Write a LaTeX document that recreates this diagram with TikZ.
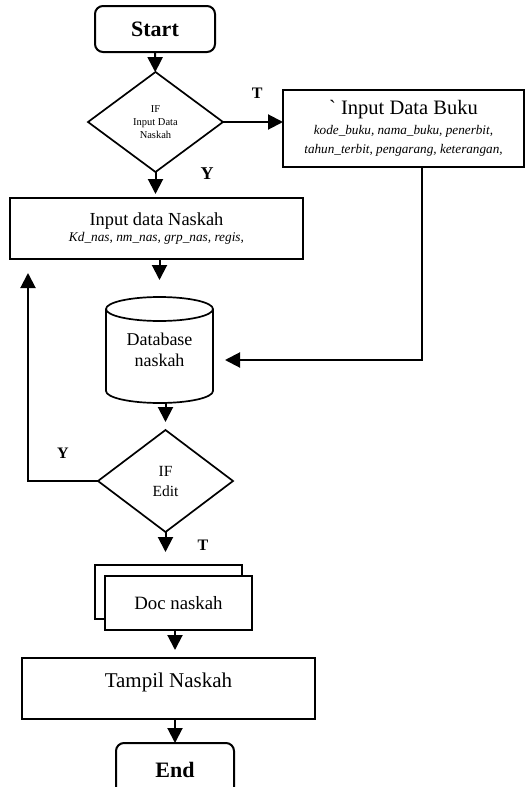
\documentclass[tikz,border=0pt]{standalone}
\usepackage{fontspec}
\setmainfont{Liberation Serif}
\usetikzlibrary{positioning,arrows.meta,shapes.geometric,backgrounds}

\tikzset{
  proc/.style={draw, line width=2pt, outer sep=0pt, align=center},
  term/.style={proc, rounded corners=8pt},
  decide/.style={diamond, draw, line width=1.7pt, outer sep=0pt, inner sep=0pt, align=center},
  arr/.style={line width=2pt, -{Triangle[length=15pt,width=15pt]}},
  lbl/.style={font=\fontsize{16}{16}\selectfont\bfseries, inner sep=0pt}
}

\begin{document}
\begin{tikzpicture}

\useasboundingbox (0pt,0pt) rectangle (526pt,-787pt);
\clip (0pt,0pt) rectangle (526pt,-787pt);

% nodes (manual positions for clearer layout)
\node[term, minimum width=120pt, minimum height=46pt, font=\fontsize{22}{24}\selectfont\bfseries] (start) at (155pt,-29pt) {Start};
\node[decide, minimum width=135pt, minimum height=100pt, below=20pt of start, xshift=0.5pt, font=\fontsize{10.5}{13}\selectfont] (ifin) {IF\\Input Data\\Naskah};
\node[proc, minimum width=241pt, minimum height=77pt, right=60pt of ifin, yshift=-6.5pt, font=\fontsize{13.2}{19}\selectfont] (buku) {
{\fontsize{20.5}{20}\selectfont\textasciigrave{} Input Data Buku}\\[1pt]
{\itshape kode\_buku, nama\_buku, penerbit,}\\
{\itshape tahun\_terbit, pengarang, keterangan,}
};
\node[proc, minimum width=293pt, minimum height=61pt, below=26pt of ifin, xshift=1pt, font=\fontsize{13.3}{16}\selectfont] (naskah) {
{\fontsize{18.4}{18}\selectfont Input data Naskah}\\
{\itshape Kd\_nas, nm\_nas, grp\_nas, regis,}
};
\node[minimum width=107pt, minimum height=106pt, outer sep=0pt, below=38pt of naskah, xshift=3pt, align=center, font=\fontsize{18}{21}\selectfont] (db) {Database\\naskah};
\node[decide, minimum width=135pt, minimum height=102pt, below=27pt of db, xshift=6pt, font=\fontsize{15.5}{20}\selectfont] (ifedit) {IF\\Edit};
\node[proc, fill=white, minimum width=147pt, minimum height=54pt, below=44pt of ifedit, xshift=13pt, font=\fontsize{18.8}{22}\selectfont] (doc) {Doc naskah};
\node[proc, minimum width=293pt, minimum height=61pt, below=28pt of doc, xshift=-10pt, text height=14pt, text depth=17pt, font=\fontsize{21}{25}\selectfont] (tampil) {Tampil Naskah};
\node[term, minimum width=118pt, minimum height=54pt, below=24pt of tampil, xshift=6.5pt, font=\fontsize{22}{24}\selectfont\bfseries] (end) {End};

% database cylinder
\draw[line width=1.7pt] ([yshift=-12pt]db.north) ellipse [x radius=53.5pt, y radius=12pt];
\draw[line width=1.7pt] ([yshift=-12pt]db.north west) -- ([yshift=12pt]db.south west)
  arc [start angle=180, end angle=360, x radius=53.5pt, y radius=12pt] -- ([yshift=-12pt]db.north east);

% second sheet of the document
\begin{scope}[on background layer]
\draw[line width=2pt] ([xshift=-10pt,yshift=11pt]doc.north west) rectangle ([xshift=-10pt,yshift=11pt]doc.south east);
\end{scope}

% edges with labels
\draw[arr] (start) -- (ifin);
\draw[arr, shorten >=4pt] (ifin.south) -- (ifin.south |- naskah.north) node[lbl, pos=0.08, right=44pt, font=\fontsize{18}{18}\selectfont\bfseries] {Y};
\draw[arr] (ifin.east) -- (ifin.east -| buku.west) node[lbl, pos=0.57, above=23pt] {T};
\draw[arr, shorten >=17pt] (naskah.south -| db.north) -- (db.north);
\draw[arr, shorten >=12pt] ([xshift=18.5pt]buku.south) |- ([yshift=-10pt]db.east);
\draw[arr, shorten >=8pt] (db.south -| ifedit.north) -- (ifedit.north);
\draw[arr] (ifedit.west) -| ([xshift=18pt,yshift=-14pt]naskah.south west) node[lbl, pos=0.25, above=22pt] {Y};
\draw[arr, shorten >=24pt] (ifedit.south) -- (ifedit.south |- doc.north) node[lbl, pos=0.3, right=31pt] {T};
\draw[arr, shorten >=8pt] (doc.south -| end.north) -- (tampil.north -| end.north);
\draw[arr] (tampil.south -| end.north) -- (end.north);

\end{tikzpicture}
\end{document}
